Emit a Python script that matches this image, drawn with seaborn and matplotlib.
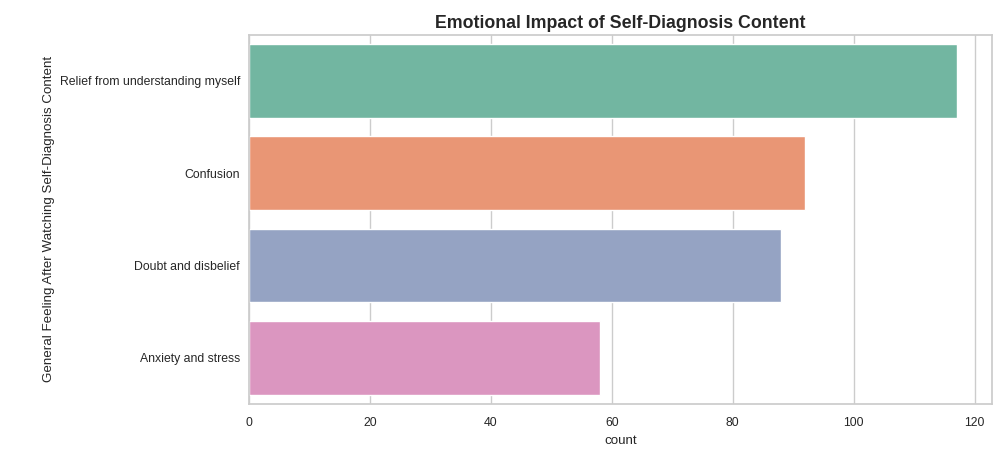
import matplotlib
matplotlib.use("Agg")
import matplotlib.pyplot as plt
import seaborn as sns
import pandas as pd

# feelings and counts
feelings = [
    "Relief from understanding myself",
    "Confusion",
    "Doubt and disbelief",
    "Anxiety and stress",
]
counts = [117, 92, 88, 58]

df = pd.DataFrame({"feeling": feelings, "count": counts})

sns.set_theme(style="whitegrid")
plt.rcParams["font.family"] = ["Liberation Sans", "DejaVu Sans"]

fig = plt.figure(figsize=(10.04, 4.58), dpi=100)
ax = fig.add_axes([0.248, 0.118, 0.740, 0.806])

sns.barplot(data=df, y="feeling", x="count", hue="feeling",
            palette="Set2", legend=False, ax=ax)

ax.set_title("Emotional Impact of Self-Diagnosis Content",
             fontsize=12.8, fontweight="bold", pad=5)
ax.set_xlabel("count", fontsize=9.6)
ax.set_ylabel("General Feeling After Watching Self-Diagnosis Content",
              fontsize=9.6, labelpad=3)
ax.tick_params(labelsize=8.8)
ax.tick_params(axis="y", pad=0.5)

fig.savefig("out.png", dpi=100)
